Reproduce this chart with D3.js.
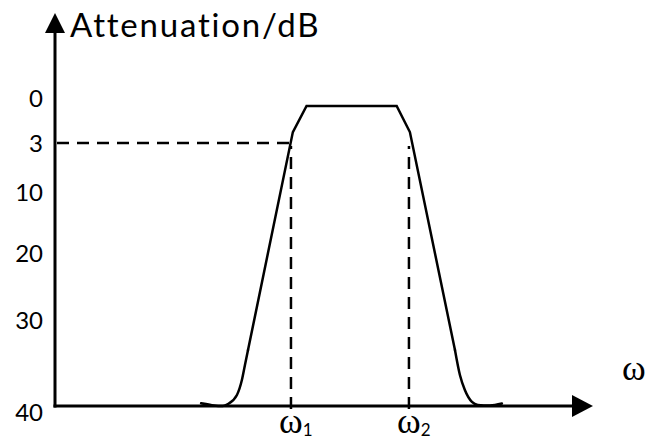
<!DOCTYPE html>
<html><head><meta charset="utf-8">
<script src="https://cdn.jsdelivr.net/npm/d3@7"></script>
<style>html,body{margin:0;padding:0;background:#fff}</style>
</head><body><svg id="chart" width="652" height="440"></svg>
<script>
// Attenuation tick values (dB) and the level that marks the band edges
const dbTicks = [0, 3, 10, 20, 30, 40];
const edgeDb = 3;
// Band-edge frequencies (normalized to ω1) and their subscripts
const bandEdges = [1, 1.5];
const edgeLabels = ["1", "2"];
// Attenuation response as [ω, dB]: lower skirt, passband, upper skirt
const lowerSkirt = [[0.619, 39.69], [0.665, 39.9], [0.712, 40], [0.733, 39.77], [0.771, 38.72], [0.792, 36.98], [0.805, 35.23], [0.818, 33.49]];
const passband = [[0.818, 33.49], [1.008, 2.27], [1.066, 0.53], [1.448, 0.53], [1.504, 2.27], [1.695, 33.49]];
const upperSkirt = [[1.695, 33.49], [1.716, 36.4], [1.737, 38.14], [1.767, 39.53], [1.792, 39.88], [1.843, 39.94], [1.894, 39.71]];

const svg = d3.select("#chart");
const x = d3.scaleLinear().domain([0, 2.28]).range([55, 593]);
const y = d3.scaleLinear().domain(dbTicks).range([98, 143, 192, 253, 320, 406]);

const sans = "Lato, 'Open Sans', sans-serif";
const serif = "'Liberation Serif', 'DejaVu Serif', serif";

// 3 dB reference lines
const dash = svg.append("g").attr("stroke", "#000").attr("stroke-width", 2.5)
  .attr("stroke-dasharray", "12,8").attr("fill", "none");
dash.append("line")
  .attr("x1", x(0) + 2).attr("x2", x(bandEdges[0]))
  .attr("y1", y(edgeDb)).attr("y2", y(edgeDb));
dash.selectAll("line.v").data(bandEdges).join("line").attr("class", "v")
  .attr("x1", d => x(d)).attr("x2", d => x(d))
  .attr("y1", y(40) + 3).attr("y2", y(edgeDb) + 3);

// Response curve: smooth skirts, straight passband edges
const smooth = d3.line().x(d => x(d[0])).y(d => y(d[1])).curve(d3.curveMonotoneX);
const straight = d3.line().x(d => x(d[0])).y(d => y(d[1]));
const curve = svg.append("g").attr("fill", "none").attr("stroke", "#000")
  .attr("stroke-width", 2.5).attr("stroke-linejoin", "miter").attr("stroke-linecap", "round");
curve.append("path").attr("d", smooth(lowerSkirt));
curve.append("path").attr("d", straight(passband));
curve.append("path").attr("d", smooth(upperSkirt));

// Axes with arrowheads
const ax = svg.append("g");
ax.append("line").attr("x1", x(0)).attr("x2", x(0)).attr("y1", y(40) + 1.5).attr("y2", 32)
  .attr("stroke", "#000").attr("stroke-width", 3);
ax.append("line").attr("x1", x(0) - 1.5).attr("x2", x(2.28) - 20).attr("y1", y(40)).attr("y2", y(40))
  .attr("stroke", "#000").attr("stroke-width", 3);
ax.append("path").attr("d", `M${x(0) - 10},33L${x(0) + 10},33L${x(0)},13Z`).attr("fill", "#000");
ax.append("path").attr("d", `M${x(2.28) - 21},${y(40) - 11}L${x(2.28) - 21},${y(40) + 11}L${x(2.28)},${y(40)}Z`).attr("fill", "#000");

// Attenuation tick labels
const yAxis = svg.append("g").attr("transform", `translate(${x(0)},0)`)
  .call(d3.axisLeft(y).tickValues(dbTicks).tickSize(0).tickPadding(12));
yAxis.select(".domain").remove();
yAxis.selectAll("text").attr("font-family", sans).attr("font-size", 24).attr("fill", "#000")
  .attr("dy", d => d === 40 ? "0.61em" : "0.36em");

// Axis titles
svg.append("text").attr("x", 70).attr("y", 37).attr("font-family", sans).attr("font-size", 33)
  .attr("letter-spacing", 1.8).attr("fill", "#000").text("Attenuation/dB");
svg.append("text").attr("x", 622).attr("y", 380).attr("font-family", serif).attr("font-size", 36)
  .attr("fill", "#000").text("ω");

// Band-edge labels ω1, ω2
const edgeText = svg.selectAll("text.edge").data(bandEdges).join("text").attr("class", "edge")
  .attr("x", d => x(d) - 12).attr("y", 433).attr("fill", "#000");
edgeText.append("tspan").attr("font-family", serif).attr("font-size", 36).text("ω");
edgeText.append("tspan").attr("font-family", sans).attr("font-size", 17).attr("dy", 3)
  .text((d, i) => edgeLabels[i]);
</script>
</body></html>
